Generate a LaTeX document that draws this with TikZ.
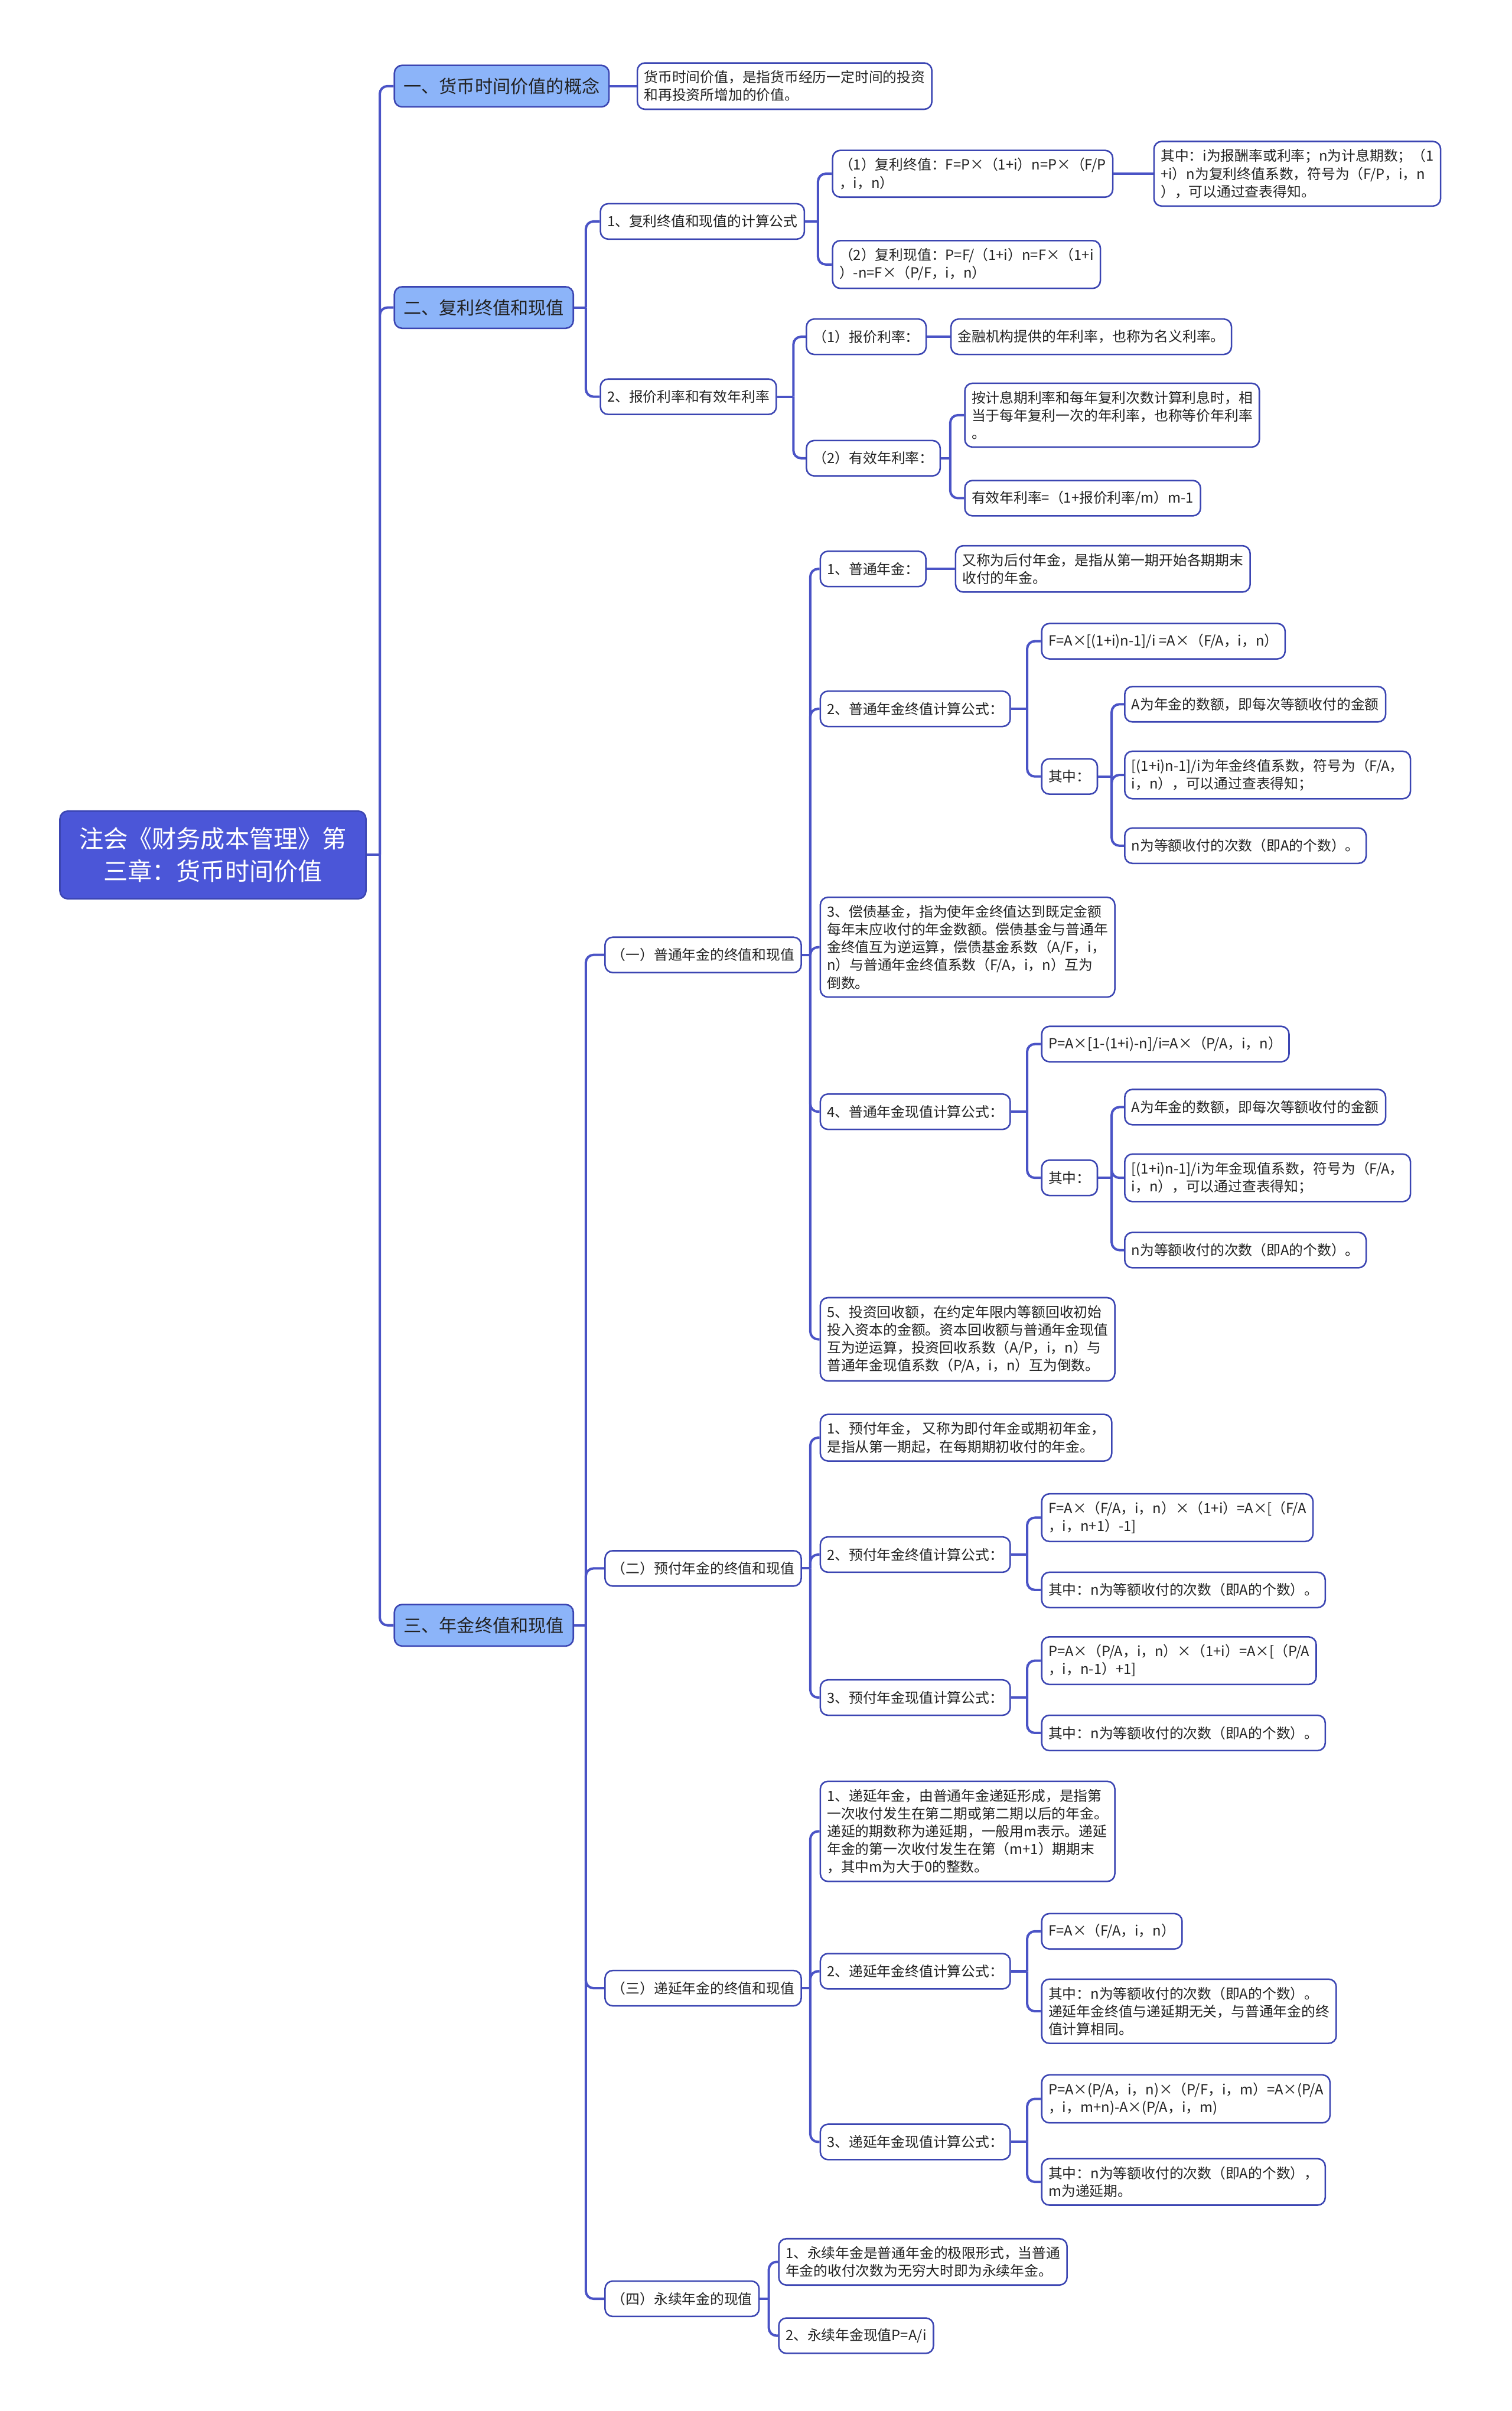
\documentclass[tikz,border=0pt]{standalone}
\usepackage{fontspec}
\setmainfont{Noto Sans CJK SC}
\usepackage{tikz}
\usetikzlibrary{calc}
\definecolor{mapline}{HTML}{4A53C6}
\definecolor{mapborder}{HTML}{3B45B2}
\definecolor{rootfill}{HTML}{4B56D8}
\definecolor{topicfill}{HTML}{8CB4F9}
\definecolor{maptext}{HTML}{222222}
\tikzset{
  rootbox/.style={draw=mapborder,fill=rootfill,rounded corners=2.5mm,line width=1.4pt,
    text=white,align=center,minimum width=99.5mm,minimum height=28.5mm,
    font=\fontsize{22.5}{30}\selectfont},
  topicbox/.style={draw=mapborder,fill=topicfill,rounded corners=2.5mm,line width=1.4pt,
    text=maptext,anchor=west,inner xsep=3mm,minimum height=13.5mm,
    font=\fontsize{16.5}{20}\selectfont},
  itembox/.style={draw=mapborder,fill=white,rounded corners=2.5mm,line width=1.4pt,
    text=maptext,anchor=west,align=left,inner xsep=2.2mm,inner ysep=2.5mm,
    minimum height=11.5mm,font=\fontsize{13}{16.5}\selectfont},
  linkline/.style={draw=mapline,line width=2.2pt},
  elbowline/.style={linkline,rounded corners=2.5mm}
}
\begin{document}
\begin{tikzpicture}[x=0.5mm,y=-0.5mm]
  \useasboundingbox (0,0) rectangle (983,1568);
  % root and main topics
  \node[rootbox] (root) at (138.5,556) {注会《财务成本管理》第\\三章：货币时间价值};
  \node[topicbox] (concept) at (256,56) {一、货币时间价值的概念};
  \node[topicbox] (compound) at (256,200) {二、复利终值和现值};
  \node[topicbox] (annuity) at (256,1057) {三、年金终值和现值};
  \draw[linkline] (root.east) -- ($(root.east -| concept.west)+(-9,0)$) coordinate (rootj);
  \foreach \n in {concept,compound,annuity}
    \draw[elbowline] (rootj) |- (\n.west);

  % 一
  \node[itembox] (conceptdef) at (414,56) {货币时间价值，是指货币经历一定时间的投资\\和再投资所增加的价值。};
  \draw[linkline] (concept.east) -- (conceptdef.west);

  % 二
  \node[itembox] (cpformula) at (390,144) {1、复利终值和现值的计算公式};
  \node[itembox] (cprate) at (390,258) {2、报价利率和有效年利率};
  \draw[linkline] (compound.east) -- ($(compound.east -| cpformula.west)+(-9,0)$) coordinate (compoundj);
  \foreach \n in {cpformula,cprate}
    \draw[elbowline] (compoundj) |- (\n.west);

  \node[itembox] (cpfuture) at (541,113) {（1）复利终值：F=P×（1+i）n=P×（F/P\\，i，n）};
  \node[itembox] (cppresent) at (541,172) {（2）复利现值：P=F/（1+i）n=F×（1+i\\）-n=F×（P/F，i，n）};
  \draw[linkline] (cpformula.east) -- ($(cpformula.east -| cpfuture.west)+(-9,0)$) coordinate (cpformulaj);
  \foreach \n in {cpfuture,cppresent}
    \draw[elbowline] (cpformulaj) |- (\n.west);
  \node[itembox] (cpnote) at (750,113) {其中：i为报酬率或利率；n为计息期数；（1\\+i）n为复利终值系数，符号为（F/P，i，n\\），可以通过查表得知。};
  \draw[linkline] (cpfuture.east) -- (cpnote.west);

  \node[itembox] (quoted) at (524,219) {（1）报价利率：};
  \node[itembox] (effective) at (524,298) {（2）有效年利率：};
  \draw[linkline] (cprate.east) -- ($(cprate.east -| quoted.west)+(-8,0)$) coordinate (cpratej);
  \foreach \n in {quoted,effective}
    \draw[elbowline] (cpratej) |- (\n.west);
  \node[itembox] (quoteddef) at (618,219) {金融机构提供的年利率，也称为名义利率。};
  \draw[linkline] (quoted.east) -- (quoteddef.west);
  \node[itembox] (effdef) at (627,270) {按计息期利率和每年复利次数计算利息时，相\\当于每年复利一次的年利率，也称等价年利率\\。};
  \node[itembox] (effformula) at (627,324) {有效年利率=（1+报价利率/m）m-1};
  \draw[linkline] (effective.east) -- ($(effective.east -| effdef.west)+(-9,0)$) coordinate (effectivej);
  \foreach \n in {effdef,effformula}
    \draw[elbowline] (effectivej) |- (\n.west);

  % 三
  \node[itembox] (ordinary) at (393,621) {（一）普通年金的终值和现值};
  \node[itembox] (due) at (393,1020) {（二）预付年金的终值和现值};
  \node[itembox] (deferred) at (393,1293) {（三）递延年金的终值和现值};
  \node[itembox] (perpetual) at (393,1495) {（四）永续年金的现值};
  \draw[linkline] (annuity.east) -- ($(annuity.east -| ordinary.west)+(-12,0)$) coordinate (annuityj);
  \foreach \n in {ordinary,due,deferred,perpetual}
    \draw[elbowline] (annuityj) |- (\n.west);

  % (一) 普通年金
  \node[itembox] (ord1) at (533,370) {1、普通年金：};
  \node[itembox] (ord2) at (533,461) {2、普通年金终值计算公式：};
  \node[itembox] (ord3) at (533,616) {3、偿债基金，指为使年金终值达到既定金额\\每年末应收付的年金数额。偿债基金与普通年\\金终值互为逆运算，偿债基金系数（A/F，i，\\n）与普通年金终值系数（F/A，i，n）互为\\倒数。};
  \node[itembox] (ord4) at (533,723) {4、普通年金现值计算公式：};
  \node[itembox] (ord5) at (533,871) {5、投资回收额，在约定年限内等额回收初始\\投入资本的金额。资本回收额与普通年金现值\\互为逆运算，投资回收系数（A/P，i，n）与\\普通年金现值系数（P/A，i，n）互为倒数。};
  \draw[linkline] (ordinary.east) -- ($(ordinary.east -| ord1.west)+(-6,0)$) coordinate (ordinaryj);
  \foreach \n in {ord1,ord2,ord3,ord4,ord5}
    \draw[elbowline] (ordinaryj) |- (\n.west);

  \node[itembox] (ord1def) at (621,370) {又称为后付年金，是指从第一期开始各期期末\\收付的年金。};
  \draw[linkline] (ord1.east) -- (ord1def.west);

  \node[itembox] (ord2f) at (677,417) {F=A×[(1+i)n-1]/i =A×（F/A，i，n）};
  \node[itembox] (ord2w) at (677,505) {其中：};
  \draw[linkline] (ord2.east) -- ($(ord2.east -| ord2f.west)+(-9,0)$) coordinate (ord2j);
  \foreach \n in {ord2f,ord2w}
    \draw[elbowline] (ord2j) |- (\n.west);
  \node[itembox] (ord2wa) at (731,458) {A为年金的数额，即每次等额收付的金额};
  \node[itembox] (ord2wb) at (731,504) {[(1+i)n-1]/i为年金终值系数，符号为（F/A，\\i，n），可以通过查表得知；};
  \node[itembox] (ord2wc) at (731,550) {n为等额收付的次数（即A的个数）。};
  \draw[linkline] (ord2w.east) -- ($(ord2w.east -| ord2wa.west)+(-8,0)$) coordinate (ord2wj);
  \foreach \n in {ord2wa,ord2wb,ord2wc}
    \draw[elbowline] (ord2wj) |- (\n.west);

  \node[itembox] (ord4f) at (677,679) {P=A×[1-(1+i)-n]/i=A×（P/A，i，n）};
  \node[itembox] (ord4w) at (677,766) {其中：};
  \draw[linkline] (ord4.east) -- ($(ord4.east -| ord4f.west)+(-9,0)$) coordinate (ord4j);
  \foreach \n in {ord4f,ord4w}
    \draw[elbowline] (ord4j) |- (\n.west);
  \node[itembox] (ord4wa) at (731,720) {A为年金的数额，即每次等额收付的金额};
  \node[itembox] (ord4wb) at (731,766) {[(1+i)n-1]/i为年金现值系数，符号为（F/A，\\i，n），可以通过查表得知；};
  \node[itembox] (ord4wc) at (731,813) {n为等额收付的次数（即A的个数）。};
  \draw[linkline] (ord4w.east) -- ($(ord4w.east -| ord4wa.west)+(-8,0)$) coordinate (ord4wj);
  \foreach \n in {ord4wa,ord4wb,ord4wc}
    \draw[elbowline] (ord4wj) |- (\n.west);

  % (二) 预付年金
  \node[itembox] (due1) at (533,935) {1、预付年金， 又称为即付年金或期初年金，\\是指从第一期起，在每期期初收付的年金。};
  \node[itembox] (due2) at (533,1011) {2、预付年金终值计算公式：};
  \node[itembox] (due3) at (533,1104) {3、预付年金现值计算公式：};
  \draw[linkline] (due.east) -- ($(due.east -| due1.west)+(-6,0)$) coordinate (duej);
  \foreach \n in {due1,due2,due3}
    \draw[elbowline] (duej) |- (\n.west);
  \node[itembox] (due2f) at (677,987) {F=A×（F/A，i，n）×（1+i）=A×[（F/A\\，i，n+1）-1]};
  \node[itembox] (due2w) at (677,1034) {其中：n为等额收付的次数（即A的个数）。};
  \draw[linkline] (due2.east) -- ($(due2.east -| due2f.west)+(-9,0)$) coordinate (due2j);
  \foreach \n in {due2f,due2w}
    \draw[elbowline] (due2j) |- (\n.west);
  \node[itembox] (due3f) at (677,1080) {P=A×（P/A，i，n）×（1+i）=A×[（P/A\\，i，n-1）+1]};
  \node[itembox] (due3w) at (677,1127) {其中：n为等额收付的次数（即A的个数）。};
  \draw[linkline] (due3.east) -- ($(due3.east -| due3f.west)+(-9,0)$) coordinate (due3j);
  \foreach \n in {due3f,due3w}
    \draw[elbowline] (due3j) |- (\n.west);

  % (三) 递延年金
  \node[itembox] (def1) at (533,1191) {1、递延年金，由普通年金递延形成，是指第\\一次收付发生在第二期或第二期以后的年金。\\递延的期数称为递延期，一般用m表示。递延\\年金的第一次收付发生在第（m+1）期期末\\，其中m为大于0的整数。};
  \node[itembox] (def2) at (533,1282) {2、递延年金终值计算公式：};
  \node[itembox] (def3) at (533,1393) {3、递延年金现值计算公式：};
  \draw[linkline] (deferred.east) -- ($(deferred.east -| def1.west)+(-6,0)$) coordinate (deferredj);
  \foreach \n in {def1,def2,def3}
    \draw[elbowline] (deferredj) |- (\n.west);
  \node[itembox] (def2f) at (677,1256) {F=A×（F/A，i，n）};
  \node[itembox] (def2w) at (677,1308) {其中：n为等额收付的次数（即A的个数）。\\递延年金终值与递延期无关，与普通年金的终\\值计算相同。};
  \draw[linkline] (def2.east) -- ($(def2.east -| def2f.west)+(-9,0)$) coordinate (def2j);
  \foreach \n in {def2f,def2w}
    \draw[elbowline] (def2j) |- (\n.west);
  \node[itembox] (def3f) at (677,1365) {P=A×(P/A，i，n)×（P/F，i，m）=A×(P/A\\，i，m+n)-A×(P/A，i，m)};
  \node[itembox] (def3w) at (677,1419) {其中：n为等额收付的次数（即A的个数），\\m为递延期。};
  \draw[linkline] (def3.east) -- ($(def3.east -| def3f.west)+(-9,0)$) coordinate (def3j);
  \foreach \n in {def3f,def3w}
    \draw[elbowline] (def3j) |- (\n.west);

  % (四) 永续年金
  \node[itembox] (perp1) at (506,1471) {1、永续年金是普通年金的极限形式，当普通\\年金的收付次数为无穷大时即为永续年金。};
  \node[itembox] (perp2) at (506,1519) {2、永续年金现值P=A/i};
  \draw[linkline] (perpetual.east) -- ($(perpetual.east -| perp1.west)+(-6,0)$) coordinate (perpetualj);
  \foreach \n in {perp1,perp2}
    \draw[elbowline] (perpetualj) |- (\n.west);
\end{tikzpicture}
\end{document}
